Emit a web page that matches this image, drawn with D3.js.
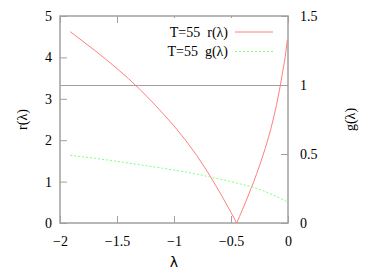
<!DOCTYPE html>
<html>
<head>
<meta charset="utf-8">
<script src="https://cdn.jsdelivr.net/npm/d3@7"></script>
</head>
<body style="margin:0">
<svg width="371" height="278" font-family="Liberation Serif" font-size="14"></svg>
<script>
// r(lambda) samples, left axis
var rLam = [-1.91, -1.8, -1.7, -1.6, -1.5, -1.4, -1.3, -1.2, -1.1, -1.0, -0.9, -0.8, -0.7, -0.6, -0.5, -0.45,
            -0.425, -0.4, -0.375, -0.35, -0.325, -0.3, -0.275, -0.25, -0.225, -0.2, -0.175, -0.15,
            -0.125, -0.1, -0.075, -0.05, -0.025, -0.006];
var rVal = [4.62, 4.39, 4.18, 3.96, 3.73, 3.49, 3.23, 2.95, 2.655, 2.345, 2.005, 1.63, 1.21, 0.75, 0.255, 0,
            0.16, 0.32, 0.485, 0.65, 0.83, 1.0, 1.19, 1.38, 1.59, 1.8, 2.03, 2.28,
            2.56, 2.86, 3.21, 3.6, 4.0, 4.42];
// g(lambda) samples, right axis
var gLam = [-1.91, -1.7, -1.5, -1.3, -1.1, -0.9, -0.7, -0.5, -0.3, -0.2, -0.1, 0];
var gVal = [0.49, 0.47, 0.447, 0.422, 0.397, 0.37, 0.337, 0.30, 0.258, 0.228, 0.192, 0.15];
var refLevel = [1];   // flat line on right axis

var xTicks = [-2, -1.5, -1, -0.5, 0];
var yTicks = [0, 1, 2, 3, 4, 5];
var y2Ticks = [0, 0.5, 1, 1.5];

var serif = "Liberation Serif";

var svg = d3.select("svg"),
    margin = {top: 16, right: 83, bottom: 55, left: 60},
    width = +svg.attr("width") - margin.left - margin.right,
    height = +svg.attr("height") - margin.top - margin.bottom;

var x = d3.scaleLinear().domain([-2, 0]).range([0, width]),
    y = d3.scaleLinear().domain([0, 5]).range([height, 0]),
    y2 = d3.scaleLinear().domain([0, 1.5]).range([height, 0]);

var g = svg.append("g")
    .attr("transform", "translate(" + margin.left + "," + margin.top + ")");

var grey = "#a0a0a0";

// axes, ticks pointing inward like gnuplot
var ax = g.append("g").attr("transform", "translate(0," + height + ")")
    .call(d3.axisBottom(x).tickValues(xTicks).tickSize(-7).tickPadding(13).tickFormat(d3.format("")));
var ay = g.append("g")
    .call(d3.axisLeft(y).tickValues(yTicks).tickSize(-7).tickPadding(8).tickFormat(d3.format("")));
var ay2 = g.append("g").attr("transform", "translate(" + width + ",0)")
    .call(d3.axisRight(y2).tickValues(y2Ticks).tickSize(-7).tickPadding(12).tickFormat(d3.format("")));
var ax2 = g.append("g")
    .call(d3.axisTop(x).tickValues(xTicks).tickSize(-7).tickFormat(""));

[ax, ay, ay2, ax2].forEach(function(a) {
  a.attr("font-family", serif).attr("font-size", 14);
  a.select(".domain").remove();
  a.selectAll("line").attr("stroke", grey);
  a.selectAll("text").attr("fill", "#000")
      .style("font-family", serif).style("font-size", "14px");
});

g.append("rect")
    .attr("width", width).attr("height", height)
    .attr("fill", "none").attr("stroke", grey).attr("stroke-width", 1.5);

// flat reference line at g = 1
g.selectAll(".ref").data(refLevel).enter().append("line")
    .attr("x1", 0).attr("x2", width)
    .attr("y1", function(d) { return Math.round(y2(d)) + 0.5; })
    .attr("y2", function(d) { return Math.round(y2(d)) + 0.5; })
    .attr("stroke", grey).attr("stroke-width", 1);

// legend (opaque key)
var key = g.append("g");
key.append("rect").attr("x", 98).attr("y", 2).attr("width", 126).attr("height", 46).attr("fill", "#fff");

var rLine = d3.line().x(function(d, i) { return x(rLam[i]); }).y(function(d) { return y(d); });
var gLine = d3.line().x(function(d, i) { return x(gLam[i]); }).y(function(d) { return y2(d); });

g.append("path").datum(rVal)
    .attr("d", rLine).attr("fill", "none")
    .attr("stroke", "#ff8080").attr("stroke-width", 1);

g.append("path").datum(gVal)
    .attr("d", gLine).attr("fill", "none")
    .attr("stroke", "#80ff80").attr("stroke-width", 1)
    .attr("stroke-dasharray", "2,2");

var items = [{label: "T=55  r(\u03bb)", color: "#ff8080", dash: null},
             {label: "T=55  g(\u03bb)", color: "#80ff80", dash: "2,2"}];
items.forEach(function(it, i) {
  var yy = 16 + i * 19.5;
  key.append("text").attr("x", 168).attr("y", yy).attr("dy", "0.33em")
      .attr("text-anchor", "end")
      .style("font-family", serif).style("font-size", "14px")
      .style("white-space", "pre").text(it.label);
  key.append("line").attr("x1", 175).attr("x2", 213).attr("y1", yy).attr("y2", yy)
      .attr("stroke", it.color).attr("stroke-width", 1).attr("stroke-dasharray", it.dash);
});

// axis titles
g.append("text")
    .attr("transform", "translate(-38," + (height / 2) + ") rotate(-90)")
    .attr("text-anchor", "middle").attr("dy", "0.33em")
    .style("font-family", serif).style("font-size", "14px")
    .text("r(\u03bb)");

g.append("text")
    .attr("transform", "translate(" + (width + 62) + "," + (height / 2) + ") rotate(-90)")
    .attr("text-anchor", "middle").attr("dy", "0.33em")
    .style("font-family", serif).style("font-size", "14px")
    .text("g(\u03bb)");

g.append("text")
    .attr("x", width / 2).attr("y", height + 44)
    .attr("text-anchor", "middle")
    .style("font-family", "DejaVu Sans").style("font-size", "14px")
    .text("\u03bb");
</script>
</body>
</html>
